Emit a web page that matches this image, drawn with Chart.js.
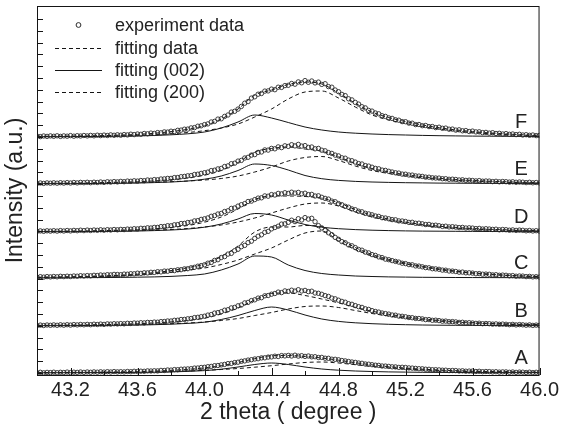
<!DOCTYPE html>
<html>
<head>
<meta charset="utf-8">
<title>XRD fitting A-F</title>
<script src="https://cdn.jsdelivr.net/npm/chart.js@4.4.1/dist/chart.umd.min.js"></script>
<style>
  html, body { margin: 0; padding: 0; background: #fff; }
  canvas { display: block; }
</style>
</head>
<body>
<canvas id="xrdChart" width="562" height="436"></canvas>
<script>
const panelNames = ["A", "B", "C", "D", "E", "F"];
const panelOffsets = [0, 47, 95, 141, 189, 236];

const fitX = [43.0, 43.1, 43.2, 43.3, 43.4, 43.5, 43.6, 43.7, 43.8, 43.9,
  44.0, 44.1, 44.2, 44.3, 44.4, 44.5, 44.6, 44.7, 44.8, 44.9,
  45.0, 45.1, 45.2, 45.3, 45.4, 45.5, 45.6, 45.7, 45.8, 45.9, 46.0];

const expX = [
  43.00, 43.02, 43.04, 43.06, 43.08, 43.10, 43.12, 43.14, 43.16, 43.18,
  43.20, 43.22, 43.24, 43.26, 43.28, 43.30, 43.32, 43.34, 43.36, 43.38,
  43.40, 43.42, 43.44, 43.46, 43.48, 43.50, 43.52, 43.54, 43.56, 43.58,
  43.60, 43.62, 43.64, 43.66, 43.68, 43.70, 43.72, 43.74, 43.76, 43.78,
  43.80, 43.82, 43.84, 43.86, 43.88, 43.90, 43.92, 43.94, 43.96, 43.98,
  44.00, 44.02, 44.04, 44.06, 44.08, 44.10, 44.12, 44.14, 44.16, 44.18,
  44.20, 44.22, 44.24, 44.26, 44.28, 44.30, 44.32, 44.34, 44.36, 44.38,
  44.40, 44.42, 44.44, 44.46, 44.48, 44.50, 44.52, 44.54, 44.56, 44.58,
  44.60, 44.62, 44.64, 44.66, 44.68, 44.70, 44.72, 44.74, 44.76, 44.78,
  44.80, 44.82, 44.84, 44.86, 44.88, 44.90, 44.92, 44.94, 44.96, 44.98,
  45.00, 45.02, 45.04, 45.06, 45.08, 45.10, 45.12, 45.14, 45.16, 45.18,
  45.20, 45.22, 45.24, 45.26, 45.28, 45.30, 45.32, 45.34, 45.36, 45.38,
  45.40, 45.42, 45.44, 45.46, 45.48, 45.50, 45.52, 45.54, 45.56, 45.58,
  45.60, 45.62, 45.64, 45.66, 45.68, 45.70, 45.72, 45.74, 45.76, 45.78,
  45.80, 45.82, 45.84, 45.86, 45.88, 45.90, 45.92, 45.94, 45.96, 45.98,
  46.00];

// experiment data, height above each curve's own baseline
const expA = [
  0.3, 0.7, 0.2, 0.6, 0.4, 0.8, 0.3, 0.7, 0.5, 0.9,
  0.4, 0.8, 0.6, 1.0, 0.6, 1.0, 0.7, 1.1, 0.8, 1.2,
  0.9, 1.3, 1.0, 1.4, 1.1, 1.3, 1.1, 1.5, 1.3, 1.7,
  1.5, 1.8, 1.7, 2.1, 2.0, 2.2, 2.1, 2.6, 2.5, 3.0,
  2.9, 3.4, 3.3, 3.8, 3.9, 4.1, 4.3, 4.9, 5.0, 5.5,
  5.7, 6.3, 6.6, 7.3, 7.5, 8.1, 8.6, 9.4, 9.6, 10.4,
  10.8, 11.7, 12.1, 12.9, 13.3, 14.0, 14.3, 15.1, 15.2, 15.9,
  16.1, 16.8, 16.5, 17.4, 17.1, 17.6, 17.0, 17.8, 16.9, 17.3,
  16.6, 17.0, 16.2, 16.3, 15.5, 15.6, 14.8, 14.7, 13.8, 13.7,
  13.2, 12.5, 12.1, 11.5, 11.0, 10.6, 10.0, 9.7, 9.0, 8.8,
  8.3, 7.8, 7.6, 7.0, 6.9, 6.6, 6.2, 6.1, 5.6, 5.7,
  5.5, 5.1, 4.9, 4.6, 4.3, 4.2, 3.8, 3.7, 3.3, 3.3,
  3.1, 2.8, 2.8, 2.4, 2.5, 2.4, 2.0, 2.2, 1.8, 1.9,
  1.9, 1.5, 1.7, 1.3, 1.5, 1.4, 1.1, 1.3, 0.9, 1.1,
  1.1, 0.7, 1.0, 0.6, 0.9, 0.8, 0.5, 0.8, 0.4, 0.7,
  0.5];
const expB = [
  0.4, 0.9, 0.5, 1.0, 0.7, 1.1, 0.7, 1.2, 0.8, 1.3,
  0.9, 1.4, 1.1, 1.5, 1.2, 1.6, 1.3, 1.8, 1.5, 1.9,
  1.6, 2.1, 1.9, 2.3, 2.1, 2.4, 2.2, 2.7, 2.5, 3.0,
  2.8, 3.3, 3.1, 3.6, 3.5, 3.9, 3.8, 4.4, 4.5, 5.0,
  5.0, 5.7, 5.8, 6.5, 6.6, 7.2, 7.5, 8.4, 8.7, 9.3,
  9.8, 10.9, 11.4, 12.9, 13.4, 14.3, 15.8, 16.3, 18.1, 18.6,
  20.2, 21.0, 23.1, 23.6, 25.4, 26.2, 27.9, 28.3, 30.2, 30.5,
  31.8, 32.5, 33.9, 33.4, 35.1, 34.6, 35.8, 34.9, 36.3, 35.0,
  35.6, 34.4, 34.8, 33.0, 32.7, 31.7, 30.4, 29.6, 27.9, 27.2,
  25.8, 24.6, 23.8, 22.3, 21.7, 20.4, 19.3, 18.6, 17.2, 16.6,
  15.4, 14.5, 13.9, 13.0, 12.4, 11.9, 11.0, 10.8, 9.9, 9.7,
  9.2, 8.5, 8.3, 7.6, 7.5, 7.1, 6.4, 6.4, 5.7, 5.8,
  5.4, 4.8, 4.9, 4.3, 4.4, 4.1, 3.6, 3.7, 3.2, 3.3,
  3.0, 2.6, 2.8, 2.3, 2.5, 2.3, 1.9, 2.1, 1.7, 1.9,
  1.7, 1.3, 1.6, 1.1, 1.4, 1.2, 0.8, 1.1, 0.6, 0.9,
  0.6];
const expC = [
  0.8, 1.3, 0.9, 1.4, 1.1, 1.5, 1.2, 1.7, 1.4, 1.8,
  1.5, 2.0, 1.8, 2.3, 2.0, 2.4, 2.2, 2.7, 2.5, 3.0,
  2.8, 3.3, 3.1, 3.6, 3.5, 3.3, 3.9, 3.8, 4.3, 4.2,
  4.8, 4.6, 5.2, 5.1, 5.7, 5.6, 6.3, 6.1, 6.9, 6.8,
  7.5, 7.4, 8.2, 8.3, 9.1, 9.3, 10.2, 10.7, 11.8, 12.4,
  13.2, 14.8, 15.5, 17.6, 18.3, 20.5, 21.4, 23.9, 24.6, 27.3,
  28.7, 31.3, 32.6, 35.4, 36.8, 39.6, 41.8, 43.2, 45.7, 46.6,
  49.1, 50.5, 51.8, 53.9, 54.2, 55.6, 57.8, 56.4, 59.3, 58.0,
  60.4, 58.9, 59.7, 56.3, 52.4, 50.1, 47.6, 45.2, 43.3, 40.6,
  38.7, 36.4, 35.3, 33.1, 32.2, 30.4, 28.5, 27.8, 25.9, 25.1,
  23.4, 22.6, 21.1, 20.4, 18.9, 18.3, 17.4, 16.6, 15.9, 14.8,
  14.4, 13.4, 13.2, 12.1, 11.9, 11.2, 10.4, 10.2, 9.3, 9.1,
  8.7, 7.9, 7.8, 7.0, 6.9, 6.5, 5.8, 5.9, 5.2, 5.2,
  4.9, 4.3, 4.4, 3.8, 3.9, 3.7, 3.1, 3.3, 2.7, 2.9,
  2.7, 2.2, 2.4, 1.8, 2.0, 1.9, 1.4, 1.6, 1.1, 1.3,
  0.9];
const expD = [
  0.6, 1.1, 0.7, 1.2, 0.9, 1.3, 0.9, 1.4, 1.0, 1.5,
  1.1, 1.6, 1.3, 1.8, 1.4, 1.9, 1.5, 2.0, 1.7, 2.2,
  1.8, 2.3, 2.0, 2.5, 2.2, 2.6, 2.4, 2.9, 2.8, 3.3,
  3.1, 3.7, 3.6, 4.2, 4.0, 4.6, 4.6, 5.4, 5.5, 6.3,
  6.2, 7.2, 7.4, 8.5, 8.6, 9.5, 9.8, 11.1, 11.4, 12.6,
  13.2, 14.1, 15.7, 16.4, 18.0, 18.6, 20.5, 21.2, 23.6, 24.0,
  25.9, 27.3, 28.4, 30.5, 30.9, 32.4, 33.9, 34.2, 36.1, 35.8,
  37.4, 37.0, 38.6, 38.1, 39.3, 38.6, 39.8, 38.9, 39.6, 38.2,
  38.8, 37.4, 37.6, 36.0, 36.2, 34.7, 33.6, 32.9, 30.9, 30.3,
  28.4, 27.3, 25.7, 24.8, 23.1, 22.3, 20.8, 20.2, 18.7, 18.1,
  17.2, 16.0, 15.6, 14.3, 14.0, 13.2, 12.4, 12.2, 11.1, 11.0,
  10.5, 9.6, 9.7, 8.7, 8.8, 8.2, 7.5, 7.6, 6.7, 6.8,
  6.3, 5.6, 5.8, 5.1, 5.3, 4.9, 4.4, 4.6, 4.0, 4.2,
  3.9, 3.4, 3.6, 3.0, 3.3, 3.0, 2.6, 2.8, 2.2, 2.5,
  2.3, 1.8, 2.1, 1.6, 1.9, 1.7, 1.2, 1.5, 1.0, 1.3,
  0.9];
const expE = [
  0.5, 1.0, 0.6, 1.1, 0.8, 1.2, 0.8, 1.3, 0.9, 1.4,
  1.0, 1.5, 1.1, 1.6, 1.3, 1.7, 1.3, 1.8, 1.5, 2.0,
  1.6, 2.2, 1.9, 2.4, 2.1, 2.6, 2.3, 2.9, 2.7, 3.2,
  2.9, 3.5, 3.3, 4.0, 3.8, 4.4, 4.2, 5.0, 5.1, 5.6,
  5.6, 6.4, 6.5, 7.3, 7.6, 8.2, 8.4, 9.5, 9.8, 10.6,
  11.3, 11.9, 13.4, 13.8, 15.1, 15.6, 17.5, 18.1, 20.3, 20.8,
  22.9, 23.6, 26.0, 26.7, 28.9, 29.4, 31.6, 32.0, 34.1, 33.9,
  35.6, 35.2, 37.1, 36.4, 38.2, 37.6, 39.3, 38.1, 39.6, 37.9,
  38.4, 36.6, 37.0, 35.2, 35.6, 33.8, 33.2, 31.4, 30.6, 28.9,
  28.1, 26.2, 25.8, 23.9, 23.3, 21.9, 20.4, 20.0, 18.4, 17.9,
  16.8, 15.6, 15.2, 13.9, 13.6, 12.7, 12.0, 11.2, 10.9, 9.9,
  9.8, 9.0, 8.9, 8.1, 7.9, 7.6, 6.9, 6.8, 6.2, 6.0,
  5.9, 5.3, 5.3, 4.7, 4.8, 4.5, 4.0, 4.2, 3.6, 3.8,
  3.5, 3.1, 3.4, 2.8, 3.0, 2.9, 2.4, 2.7, 2.2, 2.5,
  2.3, 1.9, 2.2, 1.7, 2.0, 1.8, 1.4, 1.7, 1.2, 1.5,
  1.1];
const expF = [
  0.9, 0.4, 1.0, 0.6, 1.1, 0.7, 1.2, 0.6, 1.1, 0.8,
  1.4, 0.8, 1.3, 1.0, 1.5, 1.1, 1.6, 1.2, 1.8, 1.4,
  1.9, 1.5, 2.1, 1.7, 2.2, 1.8, 2.4, 2.1, 2.8, 2.4,
  3.0, 2.7, 3.5, 3.2, 3.9, 3.6, 4.4, 4.2, 5.1, 4.9,
  5.8, 5.5, 6.7, 6.9, 7.8, 7.9, 9.1, 9.4, 10.8, 11.2,
  12.4, 13.1, 15.0, 15.6, 17.9, 18.2, 20.6, 22.0, 24.9, 25.7,
  27.9, 30.6, 33.8, 35.4, 38.9, 40.2, 42.8, 43.5, 45.9, 46.1,
  47.9, 47.3, 49.8, 49.6, 51.4, 51.7, 53.5, 52.8, 55.1, 54.2,
  56.4, 54.7, 56.0, 54.1, 54.9, 52.6, 53.3, 50.4, 49.8, 47.0,
  45.3, 42.6, 41.4, 38.2, 37.1, 34.6, 32.9, 30.3, 29.1, 26.6,
  25.9, 24.0, 23.2, 21.3, 20.6, 19.1, 18.6, 17.2, 16.8, 15.4,
  15.3, 13.9, 13.8, 12.4, 12.5, 11.3, 11.5, 10.4, 10.5, 9.4,
  9.8, 8.7, 8.9, 7.8, 7.9, 6.9, 7.2, 6.2, 6.4, 5.5,
  5.9, 5.1, 5.2, 4.4, 4.6, 3.9, 4.3, 3.5, 3.7, 3.0,
  3.4, 2.7, 3.0, 2.4, 2.7, 2.0, 2.3, 1.7, 2.0, 1.4,
  1.6];

// fitting data (sum)
const sumA = [0.4, 0.5, 0.6, 0.7, 0.85, 1.1, 1.4, 1.9, 2.6, 3.6, 5.1, 7.3, 10.5, 14.3, 17.3, 17.5, 16.5, 15, 12.8, 10.3, 8.1, 6.3, 4.9, 3.8, 3, 2.3, 1.85, 1.5, 1.25, 1, 0.9];
const sumB = [0.6, 0.75, 0.9, 1.1, 1.4, 1.8, 2.3, 3, 4.1, 5.6, 7.8, 12, 18, 26, 32.5, 33, 30.5, 27, 23.1, 18.7, 14.8, 11.7, 9.3, 7.3, 5.7, 4.5, 3.5, 2.7, 2.15, 1.7, 1.35];
const sumC = [0.7, 0.95, 1.2, 1.55, 2.05, 2.8, 3.8, 5.3, 7.4, 10.3, 14, 21.5, 32, 46, 51, 51, 52.5, 51.5, 40, 30.5, 23.5, 18.6, 14.9, 11.7, 9.1, 6.9, 5.25, 3.9, 2.85, 2.1, 1.6];
const sumD = [0.6, 0.75, 0.9, 1.1, 1.4, 1.8, 2.3, 3.2, 4.5, 6.5, 9.8, 15, 23, 32.5, 36, 36, 35.5, 33.8, 29.3, 22.4, 16.8, 12.9, 9.8, 7.5, 5.8, 4.5, 3.5, 2.7, 2.15, 1.7, 1.35];
const sumE = [0.6, 0.75, 0.9, 1.1, 1.4, 1.8, 2.3, 3.1, 4.3, 6, 8.8, 13.5, 21.5, 32, 35.5, 37, 35, 32.8, 27.1, 20.6, 15.5, 12.1, 9.3, 7.3, 5.7, 4.5, 3.6, 2.8, 2.2, 1.75, 1.4];
const sumF = [0.6, 0.75, 0.9, 1.1, 1.4, 1.9, 2.6, 3.7, 5.4, 7.7, 11.3, 18, 28, 42, 47, 52.5, 55, 53, 44, 33.8, 25, 19.4, 15.5, 12.1, 9.3, 7.1, 5.4, 4.1, 3.1, 2.3, 1.7];

// fitting (002)
const p002A = [0.2, 0.25, 0.3, 0.35, 0.4, 0.5, 0.6, 0.8, 1.1, 1.6, 2.4, 3.8, 6, 8.5, 10, 8.5, 6, 4, 2.8, 2, 1.5, 1.1, 0.9, 0.7, 0.6, 0.5, 0.45, 0.4, 0.35, 0.3, 0.3];
const p002B = [0.3, 0.35, 0.4, 0.5, 0.6, 0.8, 1, 1.3, 1.8, 2.6, 3.8, 6.5, 10.5, 15.5, 19, 16, 11, 7, 4.6, 3.2, 2.3, 1.7, 1.3, 1, 0.8, 0.7, 0.6, 0.5, 0.45, 0.4, 0.35];
const p002C = [0.2, 0.25, 0.3, 0.35, 0.45, 0.6, 0.8, 1.1, 1.6, 2.5, 4, 8, 14, 22, 21, 13, 7.5, 4.5, 3, 2, 1.5, 1.1, 0.9, 0.7, 0.6, 0.5, 0.45, 0.4, 0.35, 0.3, 0.3];
const p002D = [0.3, 0.35, 0.4, 0.5, 0.6, 0.8, 1, 1.4, 2, 3, 4.8, 8, 13, 18.5, 17, 12, 7.5, 4.8, 3.3, 2.4, 1.8, 1.4, 1.1, 0.9, 0.8, 0.7, 0.6, 0.5, 0.45, 0.4, 0.35];
const p002E = [0.3, 0.35, 0.4, 0.5, 0.6, 0.8, 1, 1.4, 2, 3, 4.8, 8, 13.5, 20, 18.5, 14, 8.5, 5.3, 3.6, 2.6, 2, 1.6, 1.3, 1.1, 0.9, 0.8, 0.7, 0.6, 0.5, 0.45, 0.4];
const p002F = [0.3, 0.35, 0.4, 0.5, 0.6, 0.8, 1.1, 1.5, 2.2, 3.2, 5, 9, 15, 22, 19, 14.5, 10, 7, 5, 3.8, 3, 2.4, 2, 1.6, 1.3, 1.1, 0.9, 0.8, 0.7, 0.6, 0.5];

// fitting (200)
const p200A = [0.2, 0.25, 0.3, 0.35, 0.45, 0.6, 0.8, 1.1, 1.5, 2, 2.7, 3.5, 4.5, 5.8, 7.3, 9, 10.5, 11, 10, 8.3, 6.6, 5.2, 4, 3.1, 2.4, 1.8, 1.4, 1.1, 0.9, 0.7, 0.6];
const p200B = [0.3, 0.4, 0.5, 0.6, 0.8, 1, 1.3, 1.7, 2.3, 3, 4, 5.5, 7.5, 10.5, 13.5, 17, 19.5, 20, 18.5, 15.5, 12.5, 10, 8, 6.3, 4.9, 3.8, 2.9, 2.2, 1.7, 1.3, 1];
const p200C = [0.5, 0.7, 0.9, 1.2, 1.6, 2.2, 3, 4.2, 5.8, 7.8, 10, 13.5, 18, 24, 30, 38, 45, 47, 37, 28.5, 22, 17.5, 14, 11, 8.5, 6.4, 4.8, 3.5, 2.5, 1.8, 1.3];
const p200D = [0.3, 0.4, 0.5, 0.6, 0.8, 1, 1.3, 1.8, 2.5, 3.5, 5, 7, 10, 14, 19, 24, 28, 29, 26, 20, 15, 11.5, 8.7, 6.6, 5, 3.8, 2.9, 2.2, 1.7, 1.3, 1];
const p200E = [0.3, 0.4, 0.5, 0.6, 0.8, 1, 1.3, 1.7, 2.3, 3, 4, 5.5, 8, 12, 17, 23, 26.5, 27.5, 23.5, 18, 13.5, 10.5, 8, 6.2, 4.8, 3.7, 2.9, 2.2, 1.7, 1.3, 1];
const p200F = [0.3, 0.4, 0.5, 0.6, 0.8, 1.1, 1.5, 2.2, 3.2, 4.5, 6.3, 9, 13, 20, 28, 38, 45, 46, 39, 30, 22, 17, 13.5, 10.5, 8, 6, 4.5, 3.3, 2.4, 1.7, 1.2];

const expSeries = [expA, expB, expC, expD, expE, expF];
const sumSeries = [sumA, sumB, sumC, sumD, sumE, sumF];
const p002Series = [p002A, p002B, p002C, p002D, p002E, p002F];
const p200Series = [p200A, p200B, p200C, p200D, p200E, p200F];

const legendLabels = ["experiment data", "fitting data", "fitting (002)", "fitting (200)"];

const INK = "#151515";
const DOT = "#2a2a2a";
const TEXT = "#222";
const FONT = "'Liberation Sans', Arial, Helvetica, sans-serif";
const DASH = [4, 3];
const Y_TICK_STEP = 11.8;

function toPoints(xs, ys, offset) {
  return xs.map((x, i) => ({ x, y: ys[i] + offset }));
}

function lineDataset(label, xs, ys, offset, dash) {
  return {
    label,
    data: toPoints(xs, ys, offset),
    showLine: true,
    borderColor: INK,
    borderWidth: 1,
    borderDash: dash,
    pointRadius: 0,
    fill: false,
    cubicInterpolationMode: "monotone",
    order: 1
  };
}

function buildDatasets() {
  const sets = [];
  panelNames.forEach((name, p) => {
    const off = panelOffsets[p];
    sets.push({
      label: `${name} experiment`,
      data: toPoints(expX, expSeries[p], off),
      showLine: false,
      pointRadius: 2.2,
      pointBorderWidth: 0.9,
      pointBorderColor: DOT,
      pointBackgroundColor: "rgba(255,255,255,0)",
      order: 0
    });
    sets.push(lineDataset(`${name} fitting`, fitX, sumSeries[p], off, DASH));
    sets.push(lineDataset(`${name} (002)`, fitX, p002Series[p], off, []));
    sets.push(lineDataset(`${name} (200)`, fitX, p200Series[p], off, DASH));
  });
  return sets;
}

const decorPlugin = {
  id: "decor",
  afterDraw(chart) {
    const { ctx, chartArea: a, scales: { x, y } } = chart;
    ctx.save();

    ctx.strokeStyle = INK;
    ctx.lineWidth = 1;
    ctx.strokeRect(a.left + 0.5, a.top + 0.5, a.right - a.left - 1, a.bottom - a.top);

    ctx.beginPath();
    x.ticks.forEach((t) => {
      const px = Math.round(x.getPixelForValue(t.value)) + 0.5;
      const len = t.label ? 7 : 4;
      ctx.moveTo(px, a.bottom);
      ctx.lineTo(px, a.bottom - len);
    });
    for (let v = 0; v < y.max - 2; v += Y_TICK_STEP) {
      const py = Math.round(y.getPixelForValue(v)) + 0.5;
      ctx.moveTo(a.left, py);
      ctx.lineTo(a.left + 6, py);
    }
    ctx.stroke();

    ctx.fillStyle = TEXT;
    ctx.font = `20px ${FONT}`;
    ctx.textAlign = "center";
    ctx.textBaseline = "alphabetic";
    panelNames.forEach((name, p) => {
      ctx.fillText(name, x.getPixelForValue(45.89), y.getPixelForValue(panelOffsets[p] + 9));
    });

    const lx0 = a.left + 18;
    const lx1 = a.left + 65;
    const tx = a.left + 78;
    const rows = [a.top + 19, a.top + 42, a.top + 64, a.top + 86];
    ctx.font = `18px ${FONT}`;
    ctx.textAlign = "left";
    ctx.textBaseline = "middle";
    legendLabels.forEach((text, i) => {
      const ry = rows[i];
      ctx.strokeStyle = i === 0 ? DOT : INK;
      ctx.lineWidth = 1;
      ctx.setLineDash(i === 1 || i === 3 ? DASH : []);
      ctx.beginPath();
      if (i === 0) {
        ctx.arc((lx0 + lx1) / 2, ry, 2.4, 0, Math.PI * 2);
      } else {
        ctx.moveTo(lx0, ry + 0.5);
        ctx.lineTo(lx1, ry + 0.5);
      }
      ctx.stroke();
      ctx.setLineDash([]);
      ctx.fillText(text, tx, ry + 1);
    });

    ctx.restore();
  }
};

new Chart(document.getElementById("xrdChart"), {
  type: "scatter",
  data: { datasets: buildDatasets() },
  options: {
    responsive: false,
    animation: false,
    layout: { padding: { top: 6, right: 22, bottom: 0, left: 0 } },
    plugins: {
      legend: { display: false },
      tooltip: { enabled: false }
    },
    scales: {
      x: {
        type: "linear",
        min: 43,
        max: 46,
        border: { display: false },
        grid: { display: false, drawTicks: false },
        ticks: {
          stepSize: 0.2,
          autoSkip: false,
          maxRotation: 0,
          padding: 3,
          color: TEXT,
          font: { family: FONT, size: 20 },
          callback: (v) => (Math.round(v * 10) % 4 === 0 ? Number(v).toFixed(1) : "")
        },
        title: {
          display: true,
          text: "2 theta ( degree )",
          color: TEXT,
          font: { family: FONT, size: 23 },
          padding: { top: 2, bottom: 10 }
        },
        afterFit: (scale) => { scale.height = 61; }
      },
      y: {
        type: "linear",
        min: -2,
        max: 367,
        border: { display: false },
        grid: { display: false, drawTicks: false },
        ticks: { display: false },
        title: {
          display: true,
          text: "Intensity (a.u.)",
          color: TEXT,
          font: { family: FONT, size: 23 },
          padding: { top: 2, bottom: 0 }
        },
        afterFit: (scale) => { scale.width = 37; }
      }
    }
  },
  plugins: [decorPlugin]
});
</script>
</body>
</html>
